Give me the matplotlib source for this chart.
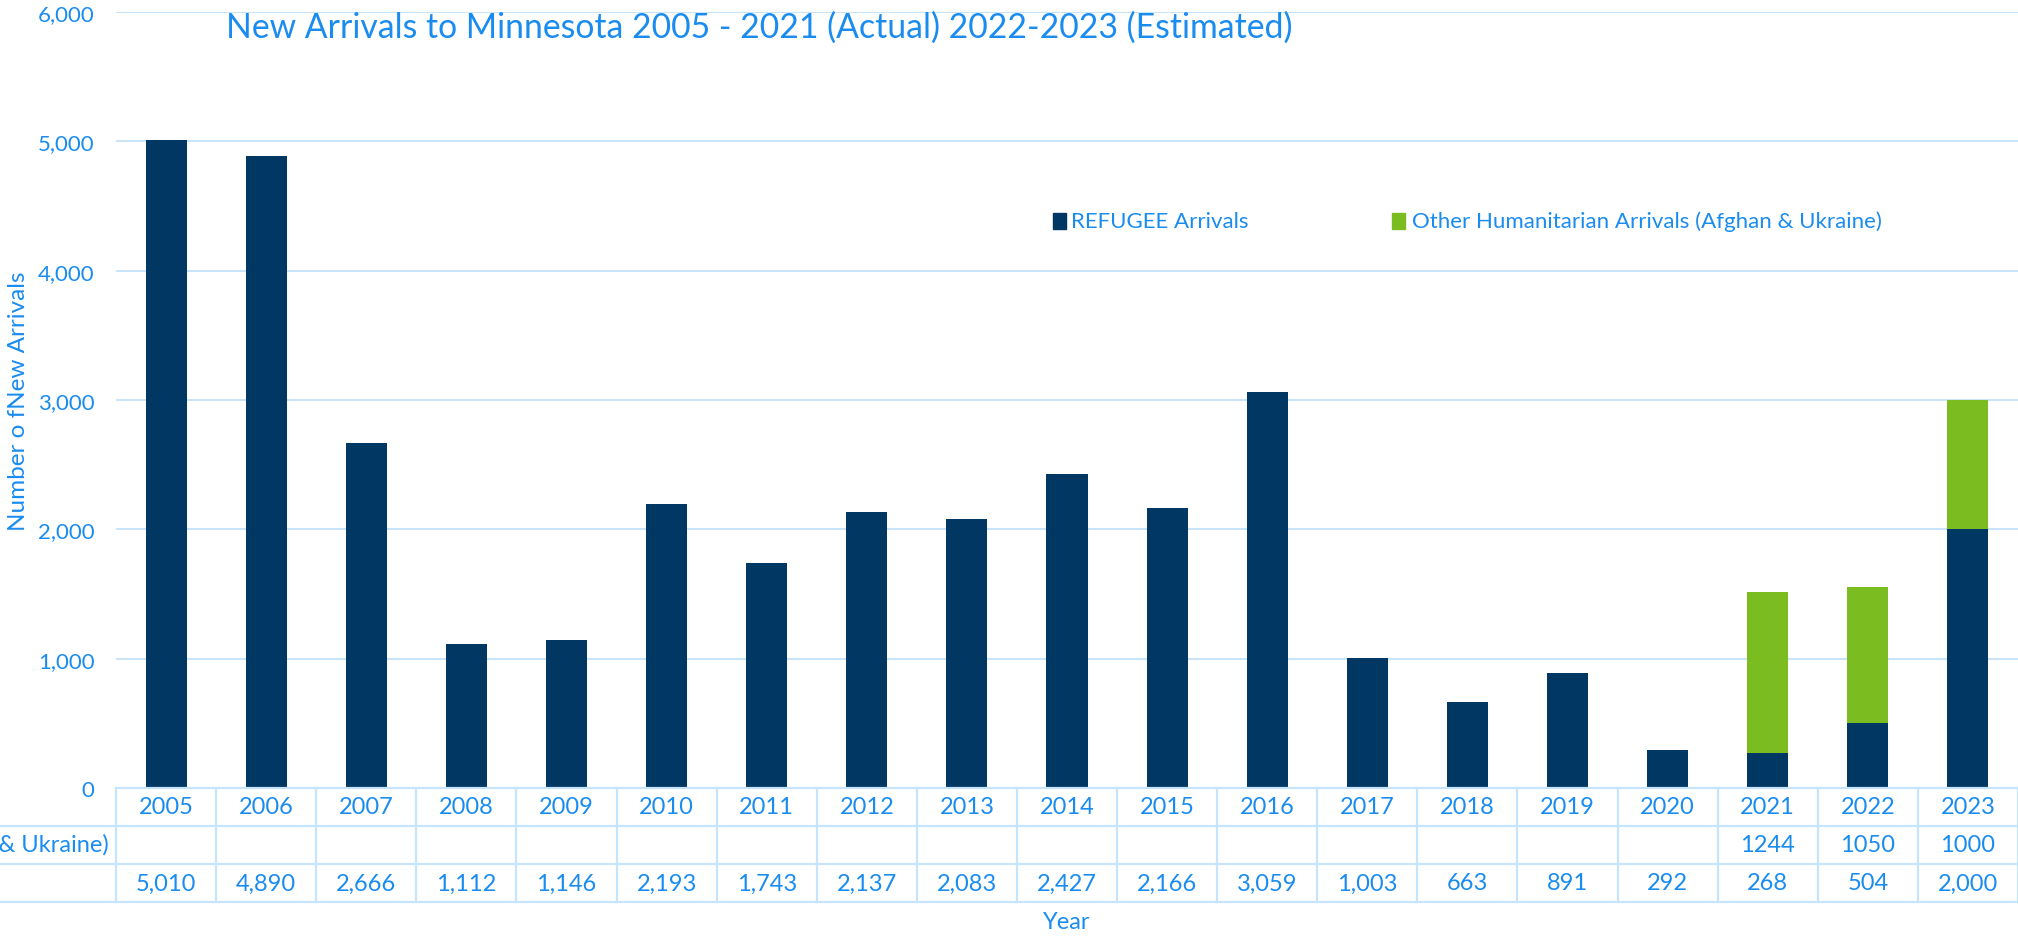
import matplotlib
matplotlib.use("Agg")
import matplotlib.pyplot as plt
import matplotlib.transforms as mtransforms
import numpy as np

years = [2005, 2006, 2007, 2008, 2009, 2010, 2011, 2012, 2013, 2014,
         2015, 2016, 2017, 2018, 2019, 2020, 2021, 2022, 2023]
refugee = [5010, 4890, 2666, 1112, 1146, 2193, 1743, 2137, 2083, 2427,
           2166, 3059, 1003, 663, 891, 292, 268, 504, 2000]
other = [None] * 16 + [1244, 1050, 1000]

title = "New Arrivals to Minnesota 2005 - 2021 (Actual) 2022-2023 (Estimated)"
refugee_label = "REFUGEE Arrivals"
other_label = "Other Humanitarian Arrivals (Afghan & Ukraine)"
y_ticks = [0, 1000, 2000, 3000, 4000, 5000, 6000]

navy = "#003763"
green = "#7bbd21"
txt = "#1a8cf0"
grid_c = "#c6e4fb"

plt.rcParams['font.family'] = ['Lato', 'DejaVu Sans']

W, H = 2018, 937
fig = plt.figure(figsize=(W / 100, H / 100), dpi=100)

left = 116 / W
ax = fig.add_axes([left, 1 - 789 / H, 1 - left, (789 - 13) / H])
tax = fig.add_axes([left, 1 - 903 / H, 1 - left, (903 - 789) / H])

x = np.arange(len(years))
other_vals = [v if v is not None else 0 for v in other]
ax.bar(x, refugee, width=0.41, color=navy, zorder=3)
ax.bar(x, other_vals, width=0.41, bottom=refugee, color=green, zorder=3)

ax.set_xlim(-0.5, len(years) - 0.5)
ax.set_ylim(0, 6000)
ax.set_yticks(y_ticks)
ax.set_yticklabels([f"{v:,}" for v in y_ticks])
ax.tick_params(axis='y', length=0, pad=15.5, labelsize=16, labelcolor=txt)
ax.set_xticks([])
for s in ax.spines.values():
    s.set_visible(False)
ax.grid(axis='y', color=grid_c, linewidth=1.4, zorder=0)

fig.text(19 / W, 1 - 401 / H, "Number o fNew Arrivals", rotation=90,
         ha='center', va='center', fontsize=17.5, color=txt)

fig.text(226 / W, 1 - 28 / H, title, fontsize=24.3, color=txt, ha='left', va='center')

# legend
ly = 1 - 222 / H
fig.patches.append(plt.Rectangle((1053 / W, ly - 8 / H), 13 / W, 16 / H,
                                 transform=fig.transFigure, color=navy))
fig.text(1071 / W, ly, refugee_label, fontsize=16, color=txt, va='center')
fig.patches.append(plt.Rectangle((1392 / W, ly - 8 / H), 13 / W, 16 / H,
                                 transform=fig.transFigure, color=green))
fig.text(1412 / W, ly, other_label, fontsize=16, color=txt, va='center')

# data table
tax.set_xlim(-0.5, len(years) - 0.5)
tax.set_ylim(3, 0)
tax.axis('off')
blend = mtransforms.blended_transform_factory(fig.transFigure, tax.transData)
tax.plot([-0.5, len(years) - 0.5], [0, 0], color=grid_c, lw=1.6, clip_on=False)
for r in [1, 2, 3]:
    tax.plot([0, 1], [r, r], color=grid_c, lw=1.6, transform=blend, clip_on=False)
for i in range(len(years) + 1):
    tax.plot([i - 0.5, i - 0.5], [0, 3], color=grid_c, lw=1.6, clip_on=False)

for i, yr in enumerate(years):
    tax.text(i, 0.5, str(yr), ha='center', va='center', fontsize=17, color=txt)
    if other[i] is not None:
        tax.text(i, 1.5, str(other[i]), ha='center', va='center', fontsize=17, color=txt)
    tax.text(i, 2.5, f"{refugee[i]:,}", ha='center', va='center', fontsize=17, color=txt)

fig.text(109 / W, 1 - 845 / H, other_label, ha='right', va='center', fontsize=17, color=txt)

fig.text((116 + W) / 2 / W, 1 - 923 / H, "Year", ha='center', va='center', fontsize=17, color=txt)

fig.savefig("out.png", dpi=100)
